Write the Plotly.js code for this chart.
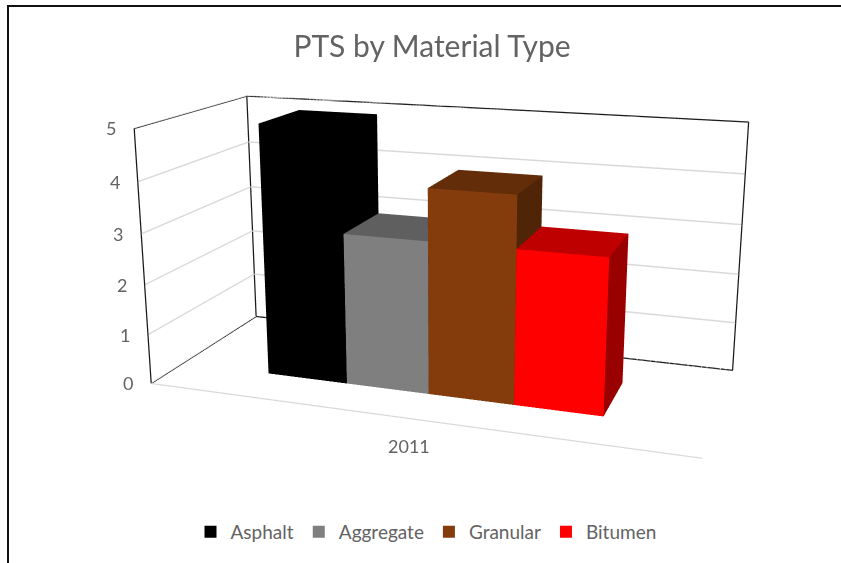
<!DOCTYPE html>
<html><head><meta charset="utf-8">
<script src="https://cdn.plot.ly/plotly-3.0.1.min.js"></script>
<style>html,body{margin:0;padding:0;background:#fff;overflow:hidden}
#win{position:absolute;left:0;top:0;width:841px;height:563px;overflow:hidden}
#plot{position:absolute;left:-404px;top:-263px;width:1700px;height:1035px}
</style></head><body><div id="win"><div id="plot"></div></div>
<script>
var titleText = "PTS by Material Type";
var materials = ["Asphalt","Aggregate","Granular","Bitumen"];
var ptsValues = [5,3,4,3];
var frontColors = ["#000000","#7f7f7f","#843c0c","#ff0000"];
var topColors = ["#000000","#5f5f5f","#632d09","#bf0000"];
var sideColors = ["#000000","#4c4c4c","#4f2407","#990000"];
var yearLabels = ["2011"];
var valueTicks = [0,1,2,3,4,5];
var xRange=[0,6], yRange=[0,1], zRange=[0,5];
var barStart=1.08, barWidth=0.955, barDepth=[0.28,0.68];
var W=1700,H=1035,L=-404,T=-263;
var traces=[];
materials.forEach(function(name,i){
  var x0=barStart+i*barWidth,x1=x0+barWidth,y0=barDepth[0],y1=barDepth[1],z=ptsValues[i];
  var xs=[x0,x1,x1,x0,x0,x1,x1,x0], ys=[y0,y0,y1,y1,y0,y0,y1,y1], zs=[0,0,0,0,z,z,z,z];
  traces.push({type:'mesh3d',x:xs,y:ys,z:zs,
    i:[0,0,1,1,4,4,3,3,0,0,2,2],
    j:[1,5,2,6,5,6,2,6,3,7,3,7],
    k:[5,4,6,5,6,7,6,7,7,4,7,6],
    facecolor:[frontColors[i],frontColors[i],sideColors[i],sideColors[i],topColors[i],topColors[i],frontColors[i],frontColors[i],sideColors[i],sideColors[i],frontColors[i],frontColors[i]],
    flatshading:true,lighting:{ambient:1,diffuse:0,specular:0,roughness:1,fresnel:0},hoverinfo:'skip',name:name,showlegend:false,showscale:false});
  traces.push({type:'scatter3d',mode:'markers',x:[(x0+x1)/2],y:[(y0+y1)/2],z:[z/2],name:name,showlegend:true,hoverinfo:'skip',
    marker:{symbol:'square',size:12,color:frontColors[i]}});
});
var a=xRange,b=yRange,c=zRange;
traces.push({type:'scatter3d',mode:'lines',hoverinfo:'skip',showlegend:false,line:{color:'#1a1a1a',width:2.5},
  x:[a[0],a[0],a[0],a[0],a[0],a[0],a[1],a[1],a[0]],
  y:[b[0],b[0],b[1],b[1],b[0],b[1],b[1],b[1],b[1]],
  z:[c[0],c[1],c[1],c[0],c[0],c[0],c[0],c[1],c[1]]});
traces.push({type:'scatter3d',mode:'lines',hoverinfo:'skip',showlegend:false,line:{color:'#d9d9d9',width:2.5},
  x:[a[0],a[1]],y:[b[0],b[0]],z:[c[0],c[0]]});
var tf={family:'Lato',size:18,color:'#636363'};
var anns=valueTicks.map(function(v){return {x:a[0],y:b[0],z:v,text:String(v),showarrow:false,xanchor:'right',yanchor:'middle',xshift:-16,font:tf};});
anns.push({x:(a[0]+a[1])/2,y:b[0],z:c[0],text:yearLabels[0],showarrow:false,xanchor:'center',yanchor:'middle',xshift:2,yshift:-28,font:tf});
var layout={width:W,height:H,margin:{l:0,r:0,t:0,b:0},paper_bgcolor:'#fff',
  title:{text:titleText,font:{family:'Lato',size:30,color:'#636363'},x:(432-L)/W,xanchor:'center',y:1-(46-T)/H,yanchor:'middle'},
  font:{family:'Lato',color:'#636363',size:18},
  legend:{orientation:'h',x:(426-L)/W,xanchor:'center',y:1-(532-T)/H,yanchor:'middle',font:{size:19,color:'#636363'},itemclick:false},
  scene:{domain:{x:[0,1],y:[0,1]},aspectmode:'manual',aspectratio:{x:2.12,y:0.88,z:1.0},
    camera:{eye:{x:1.5,y:-4.37,z:1.27},center:{x:0,y:0,z:0},up:{x:0,y:0,z:1},projection:{type:'perspective'}},
    annotations:anns,
    xaxis:{range:xRange,title:{text:''},showgrid:false,showbackground:false,zeroline:false,showline:false,ticks:'',showticklabels:false,showspikes:false},
    yaxis:{range:yRange,title:{text:''},showgrid:false,showbackground:false,zeroline:false,showline:false,ticks:'',showticklabels:false,showspikes:false},
    zaxis:{range:zRange,title:{text:''},showgrid:true,gridcolor:'#d9d9d9',gridwidth:3,showbackground:false,zeroline:false,showline:false,ticks:'',tickmode:'array',tickvals:valueTicks,showticklabels:false,showspikes:false}
  },
  shapes:[
   {type:'line',xref:'paper',yref:'paper',x0:(7-L)/W,x1:(841-L)/W,y0:1-(6-T)/H,y1:1-(6-T)/H,line:{color:'#111',width:2}},
   {type:'line',xref:'paper',yref:'paper',x0:(8-L)/W,x1:(8-L)/W,y0:1-(5-T)/H,y1:1-(563-T)/H,line:{color:'#111',width:2}}]
};
Plotly.newPlot('plot',traces,layout,{displayModeBar:false});
</script></body></html>
